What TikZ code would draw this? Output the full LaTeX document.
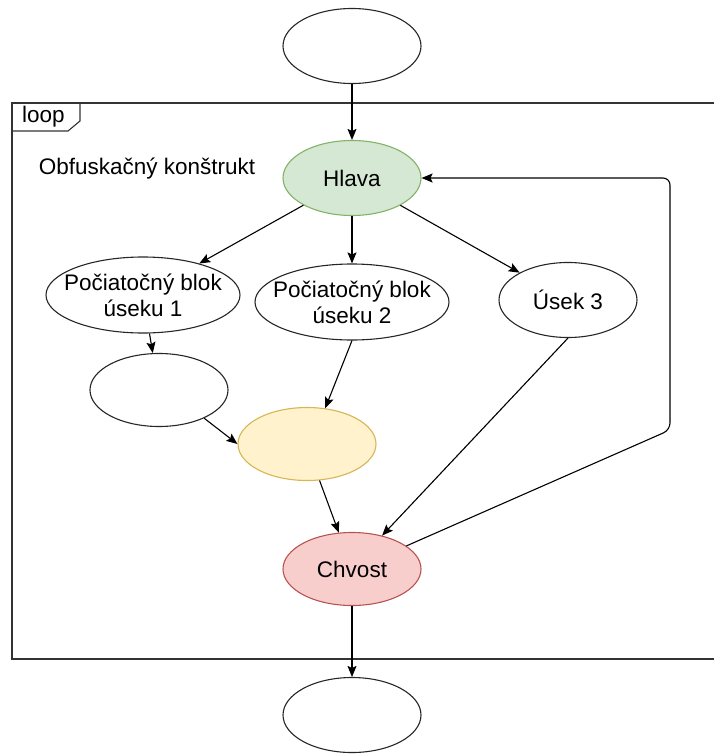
\documentclass[tikz,border=0pt]{standalone}
\usepackage{fontspec}
\setmainfont{Liberation Sans}
\usetikzlibrary{shapes.geometric,arrows.meta}
\definecolor{greenfill}{HTML}{D5E8D4}
\definecolor{greenline}{HTML}{82B366}
\definecolor{yellowfill}{HTML}{FFF2CC}
\definecolor{yellowline}{HTML}{D6B656}
\definecolor{redfill}{HTML}{F8CECC}
\definecolor{redline}{HTML}{B85450}
\definecolor{frameline}{HTML}{333333}
\tikzset{
  el/.style={ellipse, draw=black!85, line width=1.1pt, fill=white, inner sep=0pt,
    minimum width=138pt, minimum height=75pt, align=center,
    font=\fontsize{22.5}{26}\selectfont},
  wide/.style={el, minimum width=194pt, minimum height=76pt, inner xsep=-22pt, inner ysep=-4pt},
  conn/.style={draw=black, line width=1.1pt, -{Stealth[length=11pt,width=9pt,inset=2pt]}},
  txt/.style={font=\fontsize{22.5}{26}\selectfont, inner sep=0pt}
}
\begin{document}
\begin{tikzpicture}[x=1pt,y=-1pt]
\useasboundingbox (0,0) rectangle (714,754);
% frame
\draw[frameline, line width=1.1pt] (714,103) -- (12,103) -- (12,659) -- (714,659);
\draw[frameline, line width=1.1pt] (12,131) -- (68,131) -- (80,121) -- (80,103);
\node[txt, anchor=base west] (looplbl) at (22,123) {loop};
\node[txt, anchor=base] (title) at (147,175) {Obfuskačný konštrukt};
% nodes
\node[el] (T) at (352,46) {};
\node[el, fill=greenfill, draw=greenline] (H) at (352,178) {Hlava};
\node[wide] (P1) at (143,295) {Počiatočný blok\\úseku 1};
\node[wide] (P2) at (352,302) {Počiatočný blok\\úseku 2};
\node[el] (U3) at (568,300) {Úsek 3};
\node[el, minimum height=73pt] (E1) at (159,390) {};
\node[el, fill=yellowfill, draw=yellowline, minimum height=73pt] (Y) at (307,444) {};
\node[el, fill=redfill, draw=redline, minimum height=73pt] (C) at (352,569) {Chvost};
\node[el] (B) at (352,715) {};
% connectors
\draw[conn] (T) -- (H);
\draw[conn] (H) -- (P1);
\draw[conn] (H) -- (P2);
\draw[conn] (H) -- (U3);
\draw[conn] (P1) -- (E1);
\draw[conn] (P2.south) -- (Y.63);
\draw[conn] (E1.-32) -- (Y.west);
\draw[conn] (Y.-71) -- (C.110);
\draw[conn] (U3.south) -- (C.48);
\coordinate (r1) at (670,430);
\coordinate (r2) at (670,178);
\draw[conn, rounded corners=7pt] (C.23) -- (r1) -- (r2) -- (H.east);
\draw[conn] (C) -- (B);
\end{tikzpicture}
\end{document}
